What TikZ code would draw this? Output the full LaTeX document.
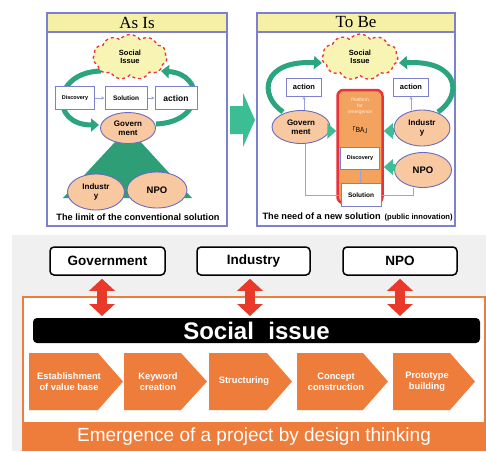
\documentclass[tikz,border=0pt]{standalone}
\usepackage{fontspec}
\setmainfont{Liberation Sans}
\newfontfamily\serf{Liberation Serif}
\newfontfamily\cjk{Noto Sans CJK JP}
\usetikzlibrary{shapes.symbols,shapes.geometric,arrows.meta,calc}
\definecolor{pborder}{HTML}{7D80CC}
\definecolor{tbar}{HTML}{F5F0A6}
\definecolor{cyellow}{HTML}{F8F4B4}
\definecolor{cred}{HTML}{E8333A}
\definecolor{tealc}{HTML}{2BA57F}
\definecolor{tealb}{HTML}{3BBE94}
\definecolor{teald}{HTML}{2E9E77}
\definecolor{peach}{HTML}{F8C8A0}
\definecolor{eborder}{HTML}{6A6ABF}
\definecolor{plat}{HTML}{F3A35D}
\definecolor{thin}{HTML}{98A2DC}
\definecolor{borange}{HTML}{EE7D3B}
\definecolor{bgray}{HTML}{F0F0F0}
\definecolor{rarrow}{HTML}{E8392B}
\newcommand\fsz[2]{\fontsize{#1}{#2}\selectfont}
\begin{document}
\begin{tikzpicture}[x=1pt,y=-1pt,
  panelline/.style={draw=pborder,line width=1.4pt},
  titletext/.style={font=\serf\fsz{17}{18}},
  cloudst/.style={cloud,cloud puffs=11,cloud puff arc=110,aspect=1.6,draw=cred,dashed,line width=1.3pt,fill=cyellow,inner sep=0pt,align=center,font=\fsz{7.5}{8.5}\bfseries},
  ell/.style={ellipse,draw=eborder,line width=0.9pt,fill=peach,inner sep=0pt,align=center,font=\fsz{8}{9}\bfseries},
  sbox/.style={draw=pborder,line width=1pt,fill=white,inner sep=0pt,font=\bfseries},
  garc/.style={draw=tealc,line width=5pt,-{Triangle[length=8pt,width=13pt]}},
  barrow/.style={draw=tealb,line width=7pt,-{Triangle[length=9pt,width=15pt]}},
  thinarrow/.style={draw=thin,line width=0.8pt,-{Stealth[length=3pt,width=3pt]}},
  thinline/.style={draw=thin,line width=0.8pt},
  caption/.style={font=\fsz{9.2}{10}\bfseries},
  topbox/.style={draw=black,line width=1.5pt,fill=white,rounded corners=4pt,minimum height=28pt,inner sep=0pt,font=\fsz{13.5}{14}\bfseries},
  redarrow/.style={draw=rarrow,line width=10pt,{Triangle[length=12pt,width=25pt]}-{Triangle[length=12pt,width=25pt]}},
  chev/.style={fill=borange},
  chevtext/.style={text=white,align=center,font=\fsz{9.3}{11}\bfseries}
]
\useasboundingbox (0,0) rectangle (486,451);

% ===================== AS IS =====================
\draw[panelline,fill=white] (47,13) rectangle (227,226);
\draw[panelline,fill=tbar] (47,13) rectangle (227,32);
\node[titletext] (asistitle) at (137,22.5) {As Is};

\fill[teald] (128,128) -- (63,198) -- (192,198) -- cycle;

\draw[garc] (101,71) .. controls (52,72) and (50,125) .. (99,125);
\draw[garc] (156,124) .. controls (205,122) and (205,74) .. (161,71);
\node[cloudst,minimum width=74pt,minimum height=45pt] (c1) at (130,57) {Social\\Issue};

\node[sbox,minimum width=39pt,minimum height=23pt,font=\fsz{5.5}{6}\bfseries] (d1) at (75,98) {Discovery};
\node[sbox,minimum width=42pt,minimum height=23pt,font=\fsz{6.5}{7}\bfseries] (s1) at (126,98) {Solution};
\node[sbox,minimum width=42pt,minimum height=23pt,font=\fsz{8.5}{9}\bfseries] (a1) at (176,98) {action};
\draw[thinarrow] (d1) -- (s1);
\draw[thinarrow] (s1) -- (a1);

\node[ell,minimum width=55pt,minimum height=31pt] (g1) at (128,128) {Govern\\ment};
\node[ell,minimum width=57pt,minimum height=36pt] (i1) at (96,192) {Industr\\y};
\node[ell,minimum width=60pt,minimum height=36pt,font=\fsz{9.5}{10}\bfseries] (n1) at (157,190) {NPO};

\node[caption] (cap1) at (138,217) {The limit of the conventional solution};

% ===================== big arrow =====================
\fill[tealb] (230,106) -- (243,106) -- (243,93) -- (255,120) -- (243,147) -- (243,134) -- (230,134) -- cycle;

% ===================== TO BE =====================
\draw[panelline,fill=white] (257,13) rectangle (455,226);
\draw[panelline,fill=tbar] (257,13) rectangle (455,32);
\node[titletext] (tobetitle) at (356,22.5) {To Be};

\draw[garc] (283,112) .. controls (258,95) and (262,60) .. (322,63);
\draw[garc] (438,112) .. controls (463,95) and (459,60) .. (399,63);
\node[cloudst,minimum width=76pt,minimum height=46pt] (c2) at (360,57) {Social\\Issue};

\node[sbox,minimum width=35pt,minimum height=18pt,font=\fsz{7.5}{8}\bfseries] (al) at (304,87) {action};
\node[sbox,minimum width=35pt,minimum height=18pt,font=\fsz{7.5}{8}\bfseries] (ar) at (411,87) {action};

\node[draw=cred,line width=2.5pt,fill=plat,rounded corners=6pt,minimum width=45pt,minimum height=113pt,inner sep=0pt] (pf) at (360,146.5) {};
\node[text=white!85!plat,align=center,font=\fsz{4.8}{6}] (pft) at (360,106) {Platform\\for\\emergence};
\node[font=\cjk\fsz{7}{8}] (ba) at (360,130) {「BA」};

\node[sbox,minimum width=39pt,minimum height=22pt,font=\fsz{5.5}{6}\bfseries] (d2) at (360,158) {Discovery};
\node[sbox,minimum width=40pt,minimum height=23pt,font=\fsz{6.5}{7}\bfseries] (s2) at (361,195) {Solution};
\draw[thinarrow] (d2) -- (s2);

\node[ell,minimum width=58pt,minimum height=33pt] (g2) at (301,127) {Govern\\ment};
\node[ell,minimum width=56pt,minimum height=36pt] (i2) at (422,128) {Industr\\y};
\node[ell,minimum width=57pt,minimum height=35pt,font=\fsz{9.5}{10}\bfseries] (n2) at (423,170) {NPO};

\draw[thinarrow] (g2.north -| al.south) -- (al.south);
\draw[thinarrow] (i2.north -| ar.south) -- (ar.south);
\draw[thinline] ([xshift=4pt]g2.south) |- (s2.west);
\draw[thinline] ([xshift=-10pt]n2.south) |- (s2.east);

\draw[barrow] (g2.east |- 0,131) -- (pf.west |- 0,131);
\draw[barrow] (i2.west |- 0,131) -- (pf.east |- 0,131);
\draw[barrow] ([xshift=1pt]n2.west |- 0,167) -- (pf.east |- 0,167);

\node[caption,anchor=west] (cap2) at (259,217) {The need of a new solution\hspace{4pt}{\fsz{7.6}{8}(public innovation)}};

% ===================== BOTTOM =====================
\fill[bgray] (12,235) rectangle (486,451);
\node[topbox,minimum width=115pt] (gb) at (107.5,261) {Government};
\node[topbox,minimum width=113pt] (ib) at (253.5,261) {Industry};
\node[topbox,minimum width=114pt] (nb) at (400,261) {NPO};

\draw[borange,line width=2pt,fill=white] (23,297) rectangle (485,450);
\fill[borange] (23,422) rectangle (486,451);
\node[text=white,font=\fsz{19}{20}] (emt) at (254,436.5) {Emergence of a project by design thinking};

\node[fill=black,rounded corners=4pt,minimum width=447pt,minimum height=25pt,inner sep=0pt,text=white,font=\fsz{24}{24}\bfseries] (si) at (256.5,330.5) {Social\hspace{0.6em}issue};

\coordinate (ge) at (102,316);
\coordinate (ie) at (250,316);
\coordinate (ne) at (400,316);
\draw[redarrow] ([xshift=-5.5pt,yshift=-3pt]gb.south) -- (ge);
\draw[redarrow] ([xshift=-3.5pt,yshift=-3pt]ib.south) -- (ie);
\draw[redarrow] ([yshift=-3pt]nb.south) -- (ne);

\fill[chev] (29,353) -- (98,353) -- (123,381.5) -- (98,410) -- (29,410) -- cycle;
\fill[chev] (124,353) -- (181,353) -- (207,381.5) -- (181,410) -- (124,410) -- cycle;
\fill[chev] (209,353) -- (267,353) -- (292,381.5) -- (267,410) -- (209,410) -- cycle;
\fill[chev] (297,353) -- (363,353) -- (388,381.5) -- (363,410) -- (297,410) -- cycle;
\fill[chev] (393,353) -- (450,353) -- (475,381.5) -- (450,410) -- (393,410) -- cycle;
\node[chevtext] (t1) at (69,381.5) {Establishment\\of value base};
\node[chevtext] (t2) at (158,381.5) {Keyword\\creation};
\node[chevtext] (t3) at (244,381.5) {Structuring};
\node[chevtext] (t4) at (336,381.5) {Concept\\construction};
\node[chevtext] (t5) at (427,381.5) {Prototype\\building};
\end{tikzpicture}
\end{document}
